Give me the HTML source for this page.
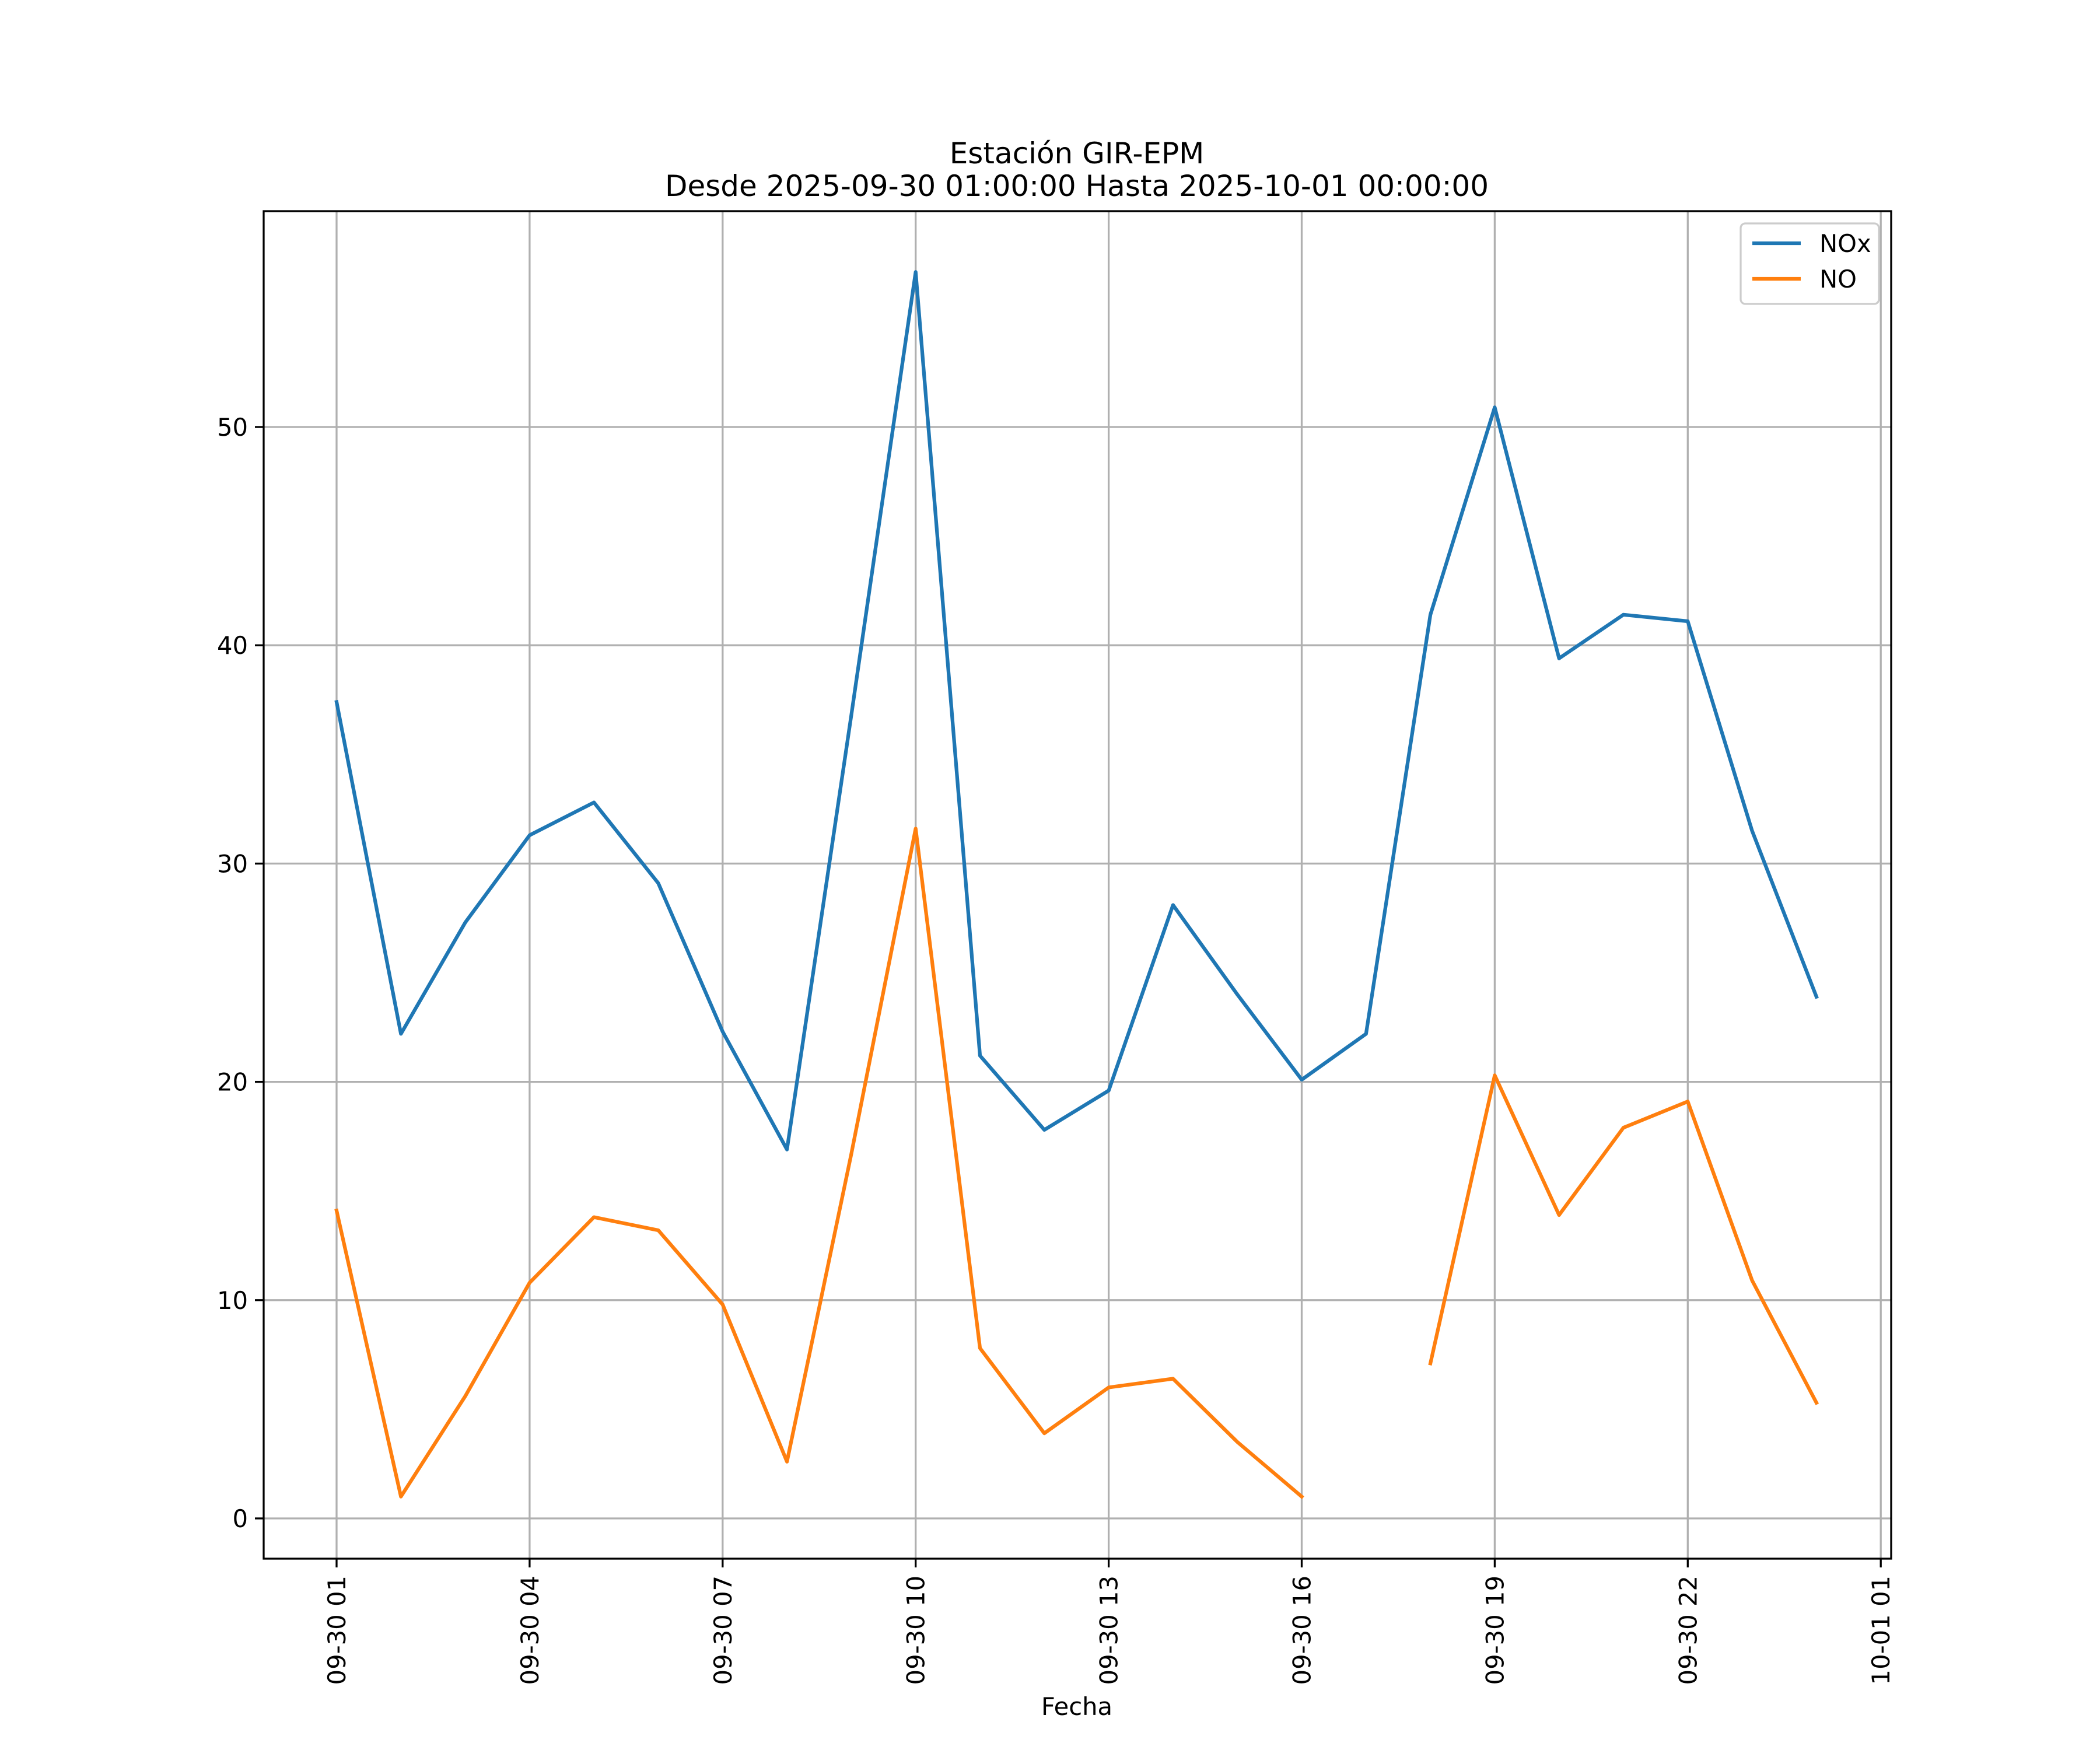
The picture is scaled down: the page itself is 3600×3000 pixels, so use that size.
<!DOCTYPE html>
<html><head><meta charset="utf-8"><style>
html,body{margin:0;padding:0;background:#fff}
svg{display:block;font-family:"DejaVu Sans","Liberation Sans",sans-serif}
</style></head><body>
<svg id="chart" width="3600" height="3000" viewBox="0 0 3600 3000" xmlns="http://www.w3.org/2000/svg">
<rect width="3600" height="3000" fill="#fff"/>
<text x="1846" y="280" font-size="50" text-anchor="middle">Estación GIR-EPM</text>
<text x="1846" y="336" font-size="50" text-anchor="middle">Desde 2025-09-30 01:00:00 Hasta 2025-10-01 00:00:00</text>
<g id="grid"></g>
<g id="series"></g>
<rect x="452" y="362" width="2790" height="2310" fill="none" stroke="#000" stroke-width="3.3"/>
<g id="ticks"></g>
<text x="1846" y="2940" font-size="41.7" text-anchor="middle">Fecha</text>
<g>
<rect x="2984" y="383" width="237" height="138" rx="8" fill="#fff" fill-opacity="0.8" stroke="#ccc" stroke-width="3.3"/>
<line x1="3004" y1="417" x2="3087" y2="417" stroke="#1f77b4" stroke-width="6.25"/>
<text x="3119" y="432" font-size="41.7">NOx</text>
<line x1="3004" y1="478" x2="3087" y2="478" stroke="#ff7f0e" stroke-width="6.25"/>
<text x="3119" y="493" font-size="41.7">NO</text>
</g>
</svg>
<script>
const hours=[1,2,3,4,5,6,7,8,9,10,11,12,13,14,15,16,17,18,19,20,21,22,23,24];
const noxValues=[37.4,22.2,27.3,31.3,32.8,29.1,22.3,16.9,36.8,57.1,21.2,17.8,19.6,28.1,24.0,20.1,22.2,41.4,50.9,39.4,41.4,41.1,31.5,23.9];
const noValues=[14.1,1.0,5.6,10.8,13.8,13.2,9.8,2.6,16.7,31.6,7.8,3.9,6.0,6.4,3.5,1.0,null,7.1,20.3,13.9,17.9,19.1,10.9,5.3];
const yTicks=[0,10,20,30,40,50];
const xTickHours=[1,4,7,10,13,16,19,22,25];
const xTickLabels=["09-30 01","09-30 04","09-30 07","09-30 10","09-30 13","09-30 16","09-30 19","09-30 22","10-01 01"];
const NS="http://www.w3.org/2000/svg";
const X=h=>577+(h-1)*110.3;
const Y=v=>2603-v*37.42;
function mk(tag,attrs,parent){const e=document.createElementNS(NS,tag);for(const k in attrs)e.setAttribute(k,attrs[k]);parent.appendChild(e);return e;}
const grid=document.getElementById('grid'),ticks=document.getElementById('ticks'),series=document.getElementById('series');
yTicks.forEach(v=>{
  const g=mk('line',{x1:452,x2:3242,y1:Y(v),y2:Y(v),stroke:'#b0b0b0','stroke-width':3.3},grid);
  
  
  const t=mk('line',{x1:437,x2:452,y1:Y(v),y2:Y(v),stroke:'#000','stroke-width':3.3},ticks);
  
  
  const l=mk('text',{x:425,y:Y(v)+15,'font-size':41.7,'text-anchor':'end'},ticks);
  l.textContent=v;
  
  
});
xTickHours.forEach((h,i)=>{
  const x=X(h);
  const g=mk('line',{x1:x,x2:x,y1:362,y2:2672,stroke:'#b0b0b0','stroke-width':3.3},grid);
  
  
  const t=mk('line',{x1:x,x2:x,y1:2672,y2:2687,stroke:'#000','stroke-width':3.3},ticks);
  
  
  const l=mk('text',{x:0,y:0,'font-size':41.7,'text-anchor':'end',transform:`translate(${x+15},2701) rotate(-90)`},ticks);
  l.textContent=xTickLabels[i];
  
  
});
function draw(vals,color,name){
  let segs=[],cur=[];
  vals.forEach((v,i)=>{if(v===null){if(cur.length)segs.push(cur);cur=[];}else cur.push(X(hours[i]).toFixed(1)+','+Y(v).toFixed(1));});
  if(cur.length)segs.push(cur);
  segs.forEach(s=>{
    const p=mk('polyline',{points:s.join(' '),fill:'none',stroke:color,'stroke-width':6.25,'stroke-linejoin':'round','stroke-linecap':'square'},series);
    
    
  });
}
draw(noxValues,'#1f77b4','nox-line');
draw(noValues,'#ff7f0e','no-line');
</script>
</body></html>
